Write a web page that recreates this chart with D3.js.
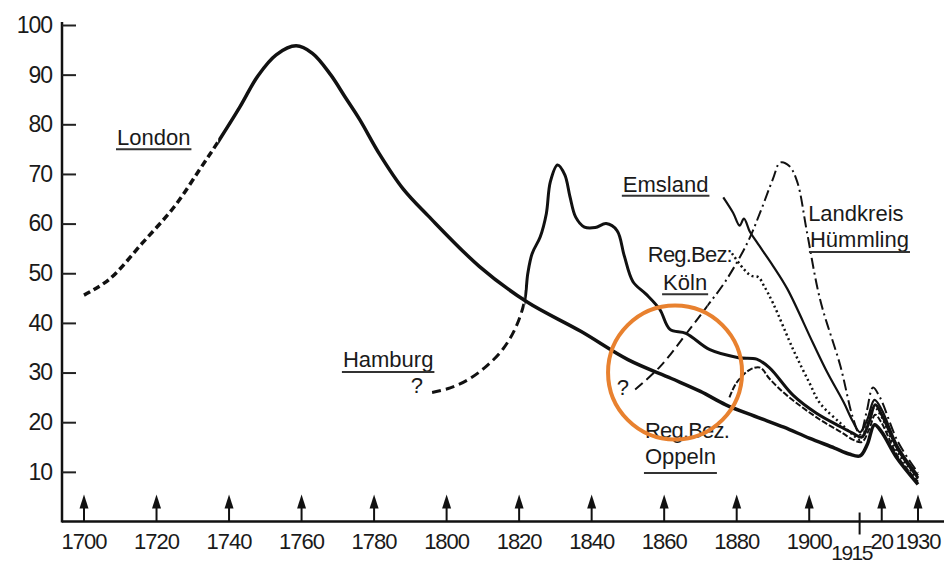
<!DOCTYPE html>
<html>
<head>
<meta charset="utf-8">
<script src="https://cdn.jsdelivr.net/npm/d3@7/dist/d3.min.js"></script>
<style>
html, body { margin: 0; padding: 0; background: #fff; }
svg { display: block; }
text { font-family: "Liberation Sans", Arial, sans-serif; fill: #1a1a1a; }
</style>
</head>
<body>
<svg id="chart" width="944" height="564"></svg>
<script>
// values: [year, value]
var london = [[1700,45.6],[1707,48.8],[1716,56],[1725,63.5],[1732,71],[1737,76.5],[1743,83.5],[1748,89.8],[1753,94],[1758.5,95.8],[1763,94.3],[1768,90],[1772,85.5],[1776,81],[1781.5,74],[1788,67],[1795,61.5],[1809,51.4],[1822,44.3],[1837,38.3],[1850,32.6],[1862,28.8],[1870,26.2],[1877,23.5],[1885,21.2],[1893,19],[1900,16.8],[1907,14.8],[1911,13.6],[1914,13.2],[1916,15.5],[1918,19.5],[1920,18],[1924,13],[1930,7.5]];
var hamburg = [[1796,26],[1801,26.9],[1806,28.6],[1811,31.3],[1815.5,34.7],[1819,39],[1821.5,44.4],[1822.4,50],[1823.6,54],[1825.8,57.3],[1827.5,62],[1828.6,68.4],[1830.6,71.8],[1832.6,69.8],[1834,65.5],[1835.6,61.3],[1838,59.3],[1841,59.2],[1844,60],[1847,58.6],[1849,53.5],[1851.4,48.3],[1855,45.8],[1858.8,42.7],[1861.6,38.7],[1866,37.9],[1872.6,34.6],[1880.5,33],[1885.5,32.7],[1889,31],[1895.6,25.4],[1902,21.8],[1908.6,19.1],[1912,17.8],[1914.5,17],[1916.5,20],[1918.2,23.5],[1920,21.5],[1924.5,14.5],[1930,8.8]];
var emsland = [[1876.3,65.3],[1879,62.2],[1880.8,59.6],[1882,61],[1883.6,58.4],[1885.6,56.2],[1890,51.5],[1894,46.8],[1901,36],[1905,30],[1909.5,24],[1912,20.2],[1914,18],[1916,20.5],[1918,24.5],[1920,22.5],[1924.5,15],[1930,9.3]];
var koeln = [[1878.7,54],[1882,50.8],[1884,49.5],[1886,49.2],[1887.5,47.5],[1890,44],[1895.6,34.6],[1900,28],[1903,23.8],[1908.6,19.8],[1912,17.5],[1914,16.5],[1916,19.5],[1918,23],[1920,21],[1924.5,13.8],[1930,8.6]];
var huemmling = [[1852,26.6],[1859,31.3],[1867,38.7],[1872,43.5],[1877,48.5],[1883,56.2],[1886.5,62.3],[1890,69],[1892,72.3],[1894.5,71.6],[1896.7,68.4],[1899.4,58.2],[1903,44.7],[1908.6,31.3],[1912,21],[1914,17.5],[1915.8,22],[1917.6,27],[1919.5,25],[1924.5,16],[1930,9.8]];
var oppeln = [[1878,25],[1880,28],[1883.7,30.6],[1886.5,31],[1889,28.8],[1894,25.3],[1903,20.5],[1909,17.9],[1912,16.5],[1914.5,16],[1916.5,18.5],[1918.2,21.5],[1920,19.8],[1924.5,13],[1930,8]];

var yTicks = [10, 20, 30, 40, 50, 60, 70, 80, 90, 100];
var arrowYears = [1700, 1720, 1740, 1760, 1780, 1800, 1820, 1840, 1860, 1880, 1900, 1920, 1930];
var arrowLabels = ["1700", "1720", "1740", "1760", "1780", "1800", "1820", "1840", "1860", "1880", "1900", "20", "1930"];

var svg = d3.select("#chart");
var x = d3.scaleLinear().domain([1700, 1930]).range([84, 918]);
var y = d3.scaleLinear().domain([0, 100]).range([521.5, 25]);
var axisX = 62;

function tr(a, b) {
	return "translate(" + a + "," + b + ")";
}

// y axis, ticks pointing inwards
var yAxis = svg.append("g")
	.attr("transform", tr(axisX, 0))
	.call(d3.axisLeft(y).tickValues(yTicks).tickSizeInner(-14).tickSizeOuter(0).tickPadding(10));
yAxis.select(".domain").attr("stroke", "#111").attr("stroke-width", 2.5).attr("d", "M0," + (y(0) + 1) + "V" + (y(100) - 3));
yAxis.selectAll(".tick line").attr("stroke", "#222").attr("stroke-width", 2);
yAxis.selectAll(".tick text")
	.style("font-size", "23px")
	.style("letter-spacing", "-1px")
	.style("font-family", "'Liberation Sans', Arial, sans-serif")
	.attr("fill", "#1a1a1a");

// x axis
svg.append("line")
	.attr("x1", axisX).attr("x2", 944)
	.attr("y1", y(0)).attr("y2", y(0))
	.attr("stroke", "#111").attr("stroke-width", 2.5);

var arrows = svg.append("g");
arrowYears.forEach(function (yr, i) {
	var ax = x(yr);
	arrows.append("line")
		.attr("x1", ax).attr("x2", ax)
		.attr("y1", y(0)).attr("y2", y(0) - 20)
		.attr("stroke", "#111").attr("stroke-width", 2);
	arrows.append("path")
		.attr("d", "M" + ax + "," + (y(0) - 27) + "L" + (ax - 4.5) + "," + (y(0) - 13) + "L" + (ax + 4.5) + "," + (y(0) - 13) + "Z")
		.attr("fill", "#111");
	arrows.append("text")
		.attr("x", ax).attr("y", y(0) + 27)
		.attr("text-anchor", "middle")
		.style("font-size", "22px")
		.style("letter-spacing", "-1px")
		.text(arrowLabels[i]);
});

// the 1915 mark
svg.append("line")
	.attr("x1", x(1915) - 4).attr("x2", x(1915) - 4)
	.attr("y1", y(0) - 9).attr("y2", y(0) + 13)
	.attr("stroke", "#111").attr("stroke-width", 2);
svg.append("text")
	.attr("x", x(1915) - 12).attr("y", y(0) + 38)
	.attr("text-anchor", "middle")
	.style("font-size", "21px")
	.style("letter-spacing", "-1.5px")
	.text("1915");

// curves
var line = d3.line()
	.x(function (d) { return x(d[0]); })
	.y(function (d) { return y(d[1]); })
	.curve(d3.curveCatmullRom.alpha(0.5));

var defs = svg.append("defs");
var clipCount = 0;

function drawSeries(data, parts) {
	parts.forEach(function (p) {
		var id = "clip" + (clipCount++);
		var x0 = p.from == null ? 0 : x(p.from);
		var x1 = p.to == null ? 944 : x(p.to);
		defs.append("clipPath").attr("id", id)
			.append("rect")
			.attr("x", x0).attr("y", 0)
			.attr("width", x1 - x0).attr("height", 564);
		svg.append("path")
			.datum(data)
			.attr("clip-path", "url(#" + id + ")")
			.attr("d", line)
			.attr("fill", "none")
			.attr("stroke", "#111")
			.attr("stroke-width", p.width)
			.attr("stroke-dasharray", p.dash || null);
	});
}

drawSeries(oppeln, [{ width: 2, dash: "6,2" }]);
drawSeries(koeln, [{ width: 2.5, dash: "2,3" }]);
drawSeries(huemmling, [
	{ to: 1872, width: 2, dash: "10,5" },
	{ from: 1872, width: 2, dash: "11,4,2,4" }
]);
drawSeries(emsland, [{ width: 2.2 }]);
drawSeries(hamburg, [
	{ to: 1821.5, width: 3, dash: "9,5" },
	{ from: 1821.5, width: 3 }
]);
drawSeries(london, [
	{ to: 1737, width: 3.5, dash: "7,4" },
	{ from: 1737, width: 3.5 }
]);

// labels, anchored in data units
var labels = [
	{ text: "London", year: 1709.1, value: 75.8, line: 4 },
	{ text: "Hamburg", year: 1771.4, value: 31.1, line: 5 },
	{ text: "?", year: 1791.8, value: 25.9, mid: true },
	{ text: "Emsland", year: 1848.6, value: 66.4, line: 4 },
	{ text: "Reg.Bez:", year: 1855.5, value: 52.3, ls: -0.8 },
	{ text: "Köln", year: 1859.7, value: 46.6, line: 4 },
	{ text: "Landkreis", year: 1899.7, value: 60.5 },
	{ text: "Hümmling", year: 1900.2, value: 55.3, line: 5 },
	{ text: "?", year: 1848.6, value: 25.5, mid: true },
	{ text: "Reg.Bez.", year: 1854.7, value: 16.8, ls: -0.8 },
	{ text: "Oppeln", year: 1854.7, value: 11.6, line: 9 }
];

labels.forEach(function (l) {
	var t = svg.append("text")
		.attr("x", x(l.year)).attr("y", y(l.value))
		.attr("text-anchor", l.mid ? "middle" : "start")
		.style("font-size", "22px")
		.style("letter-spacing", (l.ls || 0) + "px")
		.text(l.text);
	if (l.line) {
		var w = t.node().getComputedTextLength();
		svg.append("line")
			.attr("x1", x(l.year) - 1).attr("x2", x(l.year) + w + 1)
			.attr("y1", y(l.value) + l.line).attr("y2", y(l.value) + l.line)
			.attr("stroke", "#333").attr("stroke-width", 2);
	}
});

// orange highlight ring
var ring = { year: 1863, value: 30, r: 67 };
svg.append("circle")
	.attr("cx", x(ring.year)).attr("cy", y(ring.value))
	.attr("r", ring.r)
	.attr("fill", "none")
	.attr("stroke", "#e8812f")
	.attr("stroke-width", 4);
</script>
</body>
</html>
